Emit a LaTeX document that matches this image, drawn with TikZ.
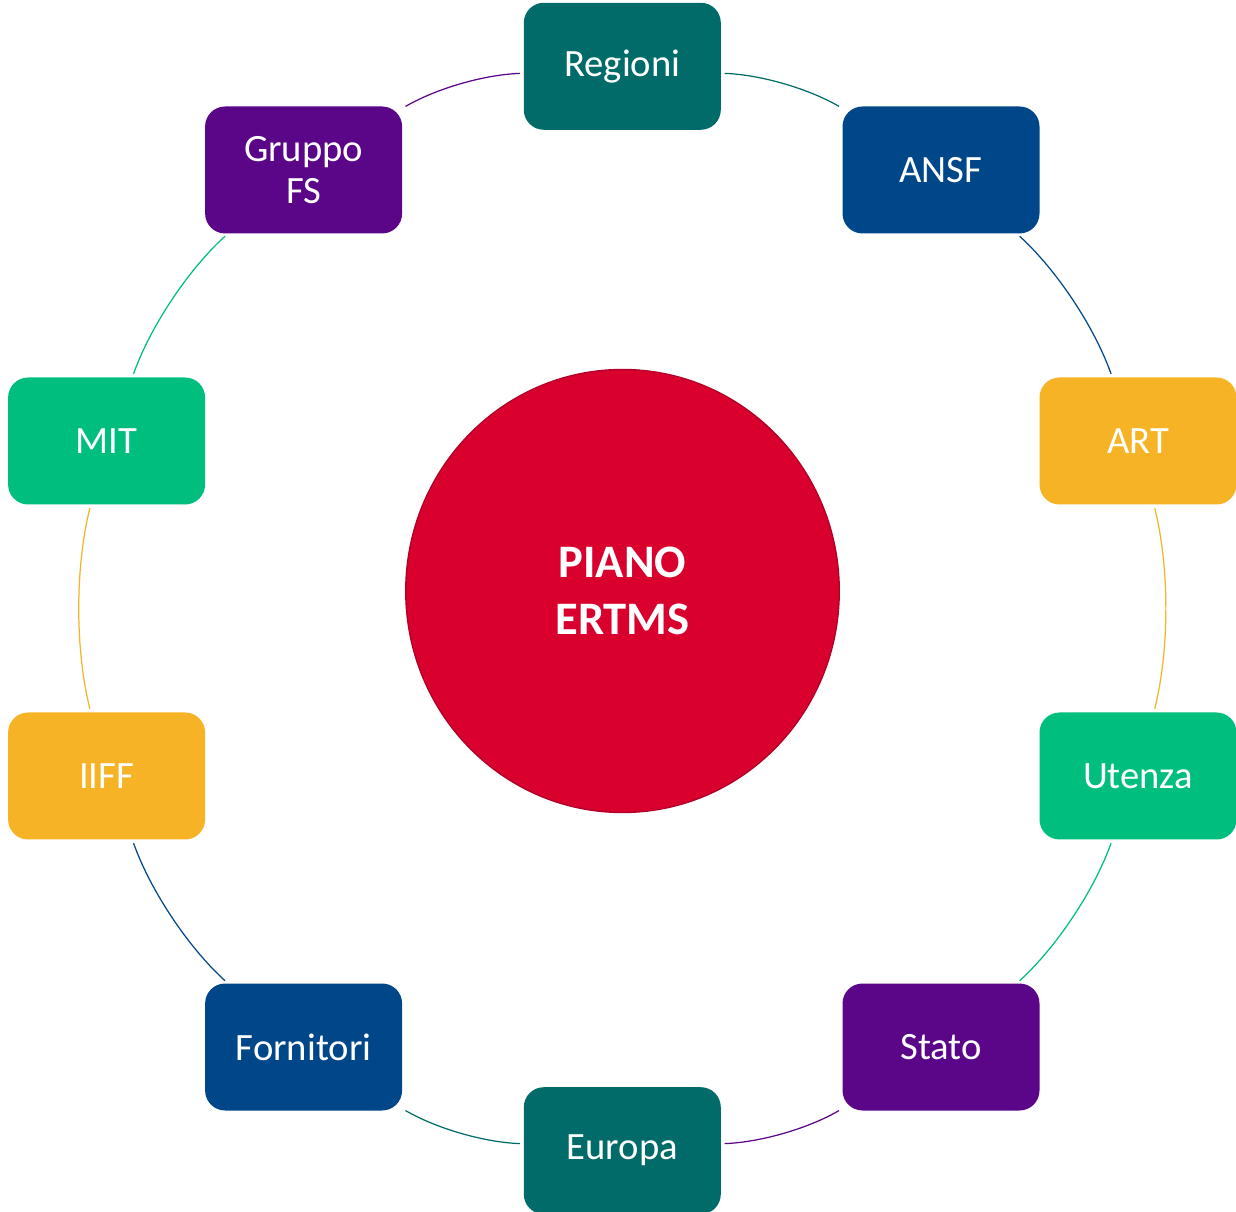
\documentclass[tikz,border=0pt]{standalone}
\usepackage{fontspec}
\setmainfont{Carlito}
\usepackage{tikz}
\usetikzlibrary{shapes.geometric}

\definecolor{ertmsteal}{HTML}{006B68}
\definecolor{ertmsnavy}{HTML}{004789}
\definecolor{ertmsorange}{HTML}{F6B325}
\definecolor{ertmsgreen}{HTML}{00BE7E}
\definecolor{ertmspurple}{HTML}{5B0589}
\definecolor{ertmsred}{HTML}{D9002E}
\definecolor{ertmsredline}{HTML}{B2002A}

\begin{document}
\begin{tikzpicture}[
  box/.style={rectangle, rounded corners=0.4cm, minimum width=3.94cm,
    minimum height=2.54cm, inner sep=0pt, align=center, text=white,
    font=\fontsize{22}{24}\selectfont},
  link/.style={line width=0.7pt, shorten <=2pt, shorten >=2pt,
    bend left=14, looseness=0.8}
]
  \useasboundingbox (0,0) rectangle (24.72,24.22);

  \node[ellipse, minimum width=8.67cm, minimum height=8.86cm, inner sep=0pt,
    fill=ertmsred, draw=ertmsredline, line width=0.8pt, text=white, align=center,
    font=\fontsize{26.5}{32}\selectfont\bfseries] (piano) at (12.45,12.40) {PIANO\\ERTMS};

  \node[box, fill=ertmsteal]   (reg)   at (12.446,22.894) {Regioni};
  \node[box, fill=ertmsnavy]   (ansf)  at (18.82,20.82)   {ANSF};
  \node[box, fill=ertmsorange] (art)   at (22.76,15.40)   {ART};
  \node[box, fill=ertmsgreen]  (ute)   at (22.76,8.70)    {Utenza};
  \node[box, fill=ertmspurple] (stato) at (18.82,3.28)    {Stato};
  \node[box, fill=ertmsteal]   (eur)   at (12.446,1.206)  {Europa};
  \node[box, fill=ertmsnavy]   (forn)  at (6.072,3.28)    {Fornitori};
  \node[box, fill=ertmsorange] (iiff)  at (2.132,8.70)    {IIFF};
  \node[box, fill=ertmsgreen]  (mit)   at (2.132,15.40)   {MIT};
  \node[box, fill=ertmspurple] (gfs)   at (6.072,20.82)   {Gruppo\\FS};

  \draw[link, ertmsteal]   (reg)   to (ansf);
  \draw[link, ertmsnavy]   (ansf)  to (art);
  \draw[link, ertmsorange] (art)   to (ute);
  \draw[link, ertmsgreen]  (ute)   to (stato);
  \draw[link, ertmspurple] (stato) to (eur);
  \draw[link, ertmsteal]   (eur)   to (forn);
  \draw[link, ertmsnavy]   (forn)  to (iiff);
  \draw[link, ertmsorange] (iiff)  to (mit);
  \draw[link, ertmsgreen]  (mit)   to (gfs);
  \draw[link, ertmspurple] (gfs)   to (reg);
\end{tikzpicture}
\end{document}
